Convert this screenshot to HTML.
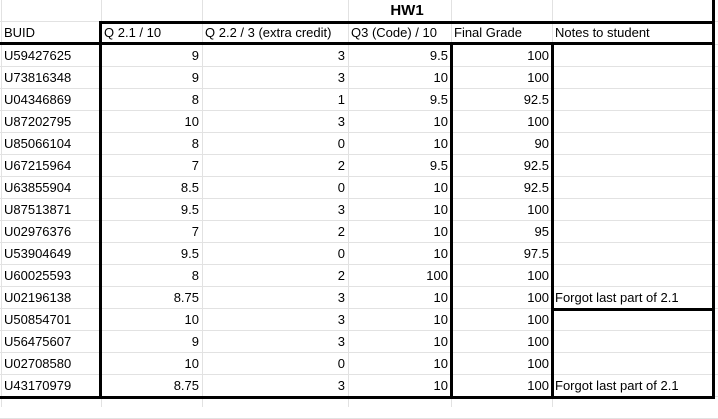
<!DOCTYPE html>
<html><head><meta charset="utf-8"><style>
body{margin:0;width:718px;height:407px;background:#fff;overflow:hidden;font-family:"Liberation Sans",Arial,sans-serif;font-size:13px;color:#000;position:relative}
.l{position:absolute}
.c{position:absolute;height:22px;line-height:22px;white-space:nowrap;overflow:visible}
</style></head><body>
<script>
const ids=["U59427625","U73816348","U04346869","U87202795","U85066104","U67215964","U63855904","U87513871","U02976376","U53904649","U60025593","U02196138","U50854701","U56475607","U02708580","U43170979"];
const q21=["9","9","8","10","8","7","8.5","9.5","7","9.5","8","8.75","10","9","10","8.75"];
const q22=["3","3","1","3","0","2","0","3","2","0","2","3","3","3","0","3"];
const q3=["9.5","10","9.5","10","10","9.5","10","10","10","10","100","10","10","10","10","10"];
const fin=["100","100","92.5","100","90","92.5","92.5","100","95","97.5","100","100","100","100","100","100"];
const notes=["","","","","","","","","","","","Forgot last part of 2.1","","","","Forgot last part of 2.1"];
const heads=["BUID","Q 2.1 / 10","Q 2.2 / 3 (extra credit)","Q3 (Code) / 10","Final Grade","Notes to student"];
const xs=[0,101,202,348,451,552,714];
const top0=44,rh=22;
const root=document.body;
function line(x,y,w,h,c,name){const d=document.createElement('div');d.className='l';d.style.cssText=`left:${x}px;top:${y}px;width:${w}px;height:${h}px;background:${c}`;


root.appendChild(d);}
for(let i=0;i<=17;i++){line(0,top0+i*rh,718,1,'#e2e2e2','grid-row-line');}
line(0,21,718,1,'#e2e2e2','grid-row-line');
for(const x of [1,101,202,348,451,552]){line(x,0,1,407,'#e2e2e2','grid-col-line');}
line(100,21,615,3,'#000','border-line');
line(0,42,715,3,'#000','border-line');
line(0,396,715,3,'#000','border-line');
line(552,308,163,3,'#000','border-line');
line(99,21,3,378,'#000','border-line');
line(450,42,3,357,'#000','border-line');
line(551,42,3,357,'#000','border-line');
line(712,0,3,399,'#000','border-line');
const t=document.createElement('div');t.className='c';t.style.cssText='left:102px;top:0;width:610px;text-align:center;font-weight:bold;font-size:15px;height:21px;line-height:21px';t.textContent='HW1';


root.appendChild(t);
function cell(txt,ci,y,right,name){const d=document.createElement('div');d.className='c';const l=xs[ci]+(ci===0?4:ci===1?3:3),w=xs[ci+1]-xs[ci]-6;d.style.cssText=`left:${l}px;top:${y}px;width:${w}px;text-align:${right?'right':'left'}`;d.textContent=txt;


root.appendChild(d);}
heads.forEach((h,i)=>cell(h,i,22,false,'column-header'));
const cols=[ids,q21,q22,q3,fin,notes];
for(let r=0;r<ids.length;r++){const y=top0+r*rh+1;
cols.forEach((col,i)=>cell(col[r],i,y,i>0&&i<5,'data-cell'));}
</script>
</body></html>
